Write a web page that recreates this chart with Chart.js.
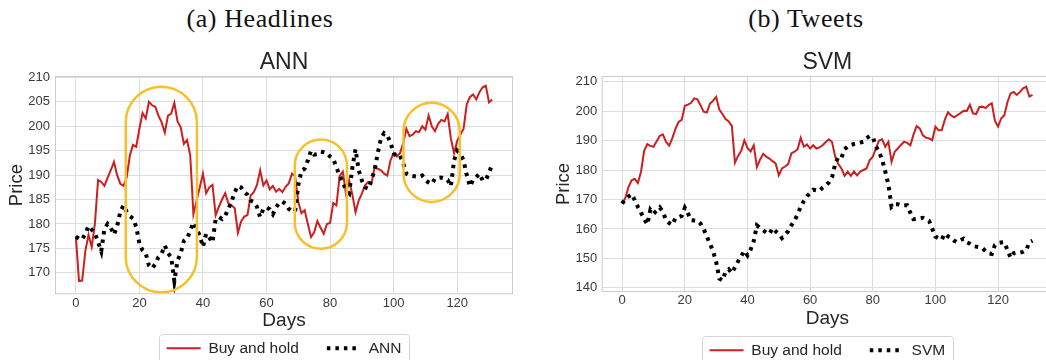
<!DOCTYPE html>
<html>
<head>
<meta charset="utf-8">
<title>Buy and hold vs ANN / SVM</title>
<script src="https://cdn.jsdelivr.net/npm/chart.js@4.4.1/dist/chart.umd.min.js"></script>
<style>
  html, body { margin: 0; padding: 0; background: #fff; }
  body { width: 1046px; height: 360px; position: relative; overflow: hidden; }
  .caption {
    position: absolute; top: 4px;
    font-family: "Liberation Serif", "DejaVu Serif", serif;
    font-size: 26px; letter-spacing: 0.6px; color: #111;
    white-space: nowrap; transform: translateX(-50%);
  }
  canvas { position: absolute; top: 0; }
</style>
</head>
<body>
<div class="caption" style="left:260px">(a) Headlines</div>
<div class="caption" style="left:806px">(b) Tweets</div>
<canvas id="annChart" width="530" height="366" style="left:0"></canvas>
<canvas id="svmChart" width="540" height="368" style="left:530px"></canvas>
<script>
// --- DATA (one value per trading day, day 0..131) ---
const buyHoldHeadlines = [
  177.5, 168.3, 168.4, 174.5, 177.8, 175.3, 180.0, 189.0, 188.6, 187.8,
  189.5, 191.0, 192.7, 190.0, 188.2, 187.8, 189.5, 194.0, 196.2, 195.8,
  199.5, 202.7, 201.6, 205.0, 204.3, 204.0, 202.2, 200.8, 198.7, 202.2,
  202.6, 204.8, 201.0, 199.8, 196.4, 197.2, 194.0, 182.0, 184.8, 187.5,
  190.3, 186.3, 187.5, 188.0, 181.8, 183.5, 185.0, 186.3, 184.2, 183.8,
  183.2, 178.2, 180.5, 181.5, 181.8, 185.8, 186.5, 188.0, 191.0, 187.9,
  188.9, 187.1, 187.8, 186.6, 187.2, 186.5, 187.6, 188.3, 190.3, 189.8,
  184.5, 182.2, 182.8, 180.0, 177.3, 178.3, 180.6, 179.2, 178.0, 180.0,
  180.2, 184.3, 183.8, 189.8, 190.7, 186.2, 188.9, 186.0, 182.4, 184.8,
  186.2, 187.9, 188.6, 188.2, 191.6, 191.3, 191.0, 190.3, 189.9, 193.0,
  194.5, 193.8, 194.5, 196.5, 199.5, 198.0, 198.3, 199.0, 198.8, 200.0,
  199.3, 202.2, 200.0, 199.0, 200.5, 201.3, 201.0, 202.5, 197.5, 194.5,
  197.0, 198.3, 199.5, 204.5, 206.0, 206.5, 205.5, 207.0, 208.0, 208.3,
  204.9, 205.5
];
const annPrices = [
  177.4, 177.0, 176.8, 178.0, 179.6, 178.8, 178.1, 176.3, 174.4, 179.0,
  180.0, 179.2, 177.8, 179.5, 182.5, 183.8, 182.5, 181.6, 181.1, 179.4,
  176.0, 174.6, 174.0, 171.5, 170.9, 171.8, 173.2, 173.9, 175.6, 174.0,
  173.2, 168.3, 172.5, 174.0, 176.5, 177.0, 178.6, 180.3, 179.0, 177.6,
  175.3, 178.0, 177.2, 176.2, 181.0, 181.4, 181.0, 181.7, 183.1, 184.6,
  186.5, 187.8, 187.5, 186.5, 186.0, 184.8, 184.5, 183.5, 181.4, 183.1,
  183.4, 183.0, 182.0, 183.4, 184.3, 184.6, 184.1, 183.1, 182.6, 182.6,
  188.0, 190.9, 191.3, 193.0, 195.0, 194.2, 194.3, 194.8, 194.7, 194.5,
  193.8, 193.3, 191.6, 189.9, 188.5, 187.0, 186.3, 191.5, 195.3, 191.0,
  188.9, 187.5, 187.2, 189.0, 191.0, 194.5, 197.5, 198.6, 198.1, 196.7,
  194.5, 193.8, 194.0, 192.5, 190.3, 189.9, 189.8, 189.7, 189.6, 189.9,
  189.0, 188.5, 188.2, 189.3, 189.4, 189.5, 189.3, 189.0, 187.7, 193.0,
  195.0, 194.4, 193.0, 190.0, 187.7, 189.0, 189.6, 190.3, 188.9, 189.0,
  190.5, 192.2
];
const buyHoldTweets = [
  168.6, 170.5, 174.2, 176.5, 177.0, 175.6, 179.4, 186.5, 188.8, 188.2,
  187.9, 189.8, 191.6, 192.0, 189.5, 188.3, 190.8, 194.0, 196.3, 197.0,
  201.8, 202.2, 202.8, 204.3, 204.0, 202.0, 199.8, 199.5, 202.5, 203.5,
  204.8, 200.5, 199.0, 197.3, 196.5, 195.0, 182.5, 184.8, 186.5, 190.1,
  187.5, 186.3, 188.4, 181.0, 183.5, 185.5, 184.5, 183.9, 183.0, 182.2,
  178.2, 180.5, 181.2, 182.0, 185.6, 186.2, 187.0, 190.9, 187.9, 188.7,
  187.3, 188.4, 187.3, 187.7, 188.4, 189.5, 190.4, 189.5, 184.5, 182.0,
  180.5, 178.0, 179.4, 178.0, 179.5, 178.2, 179.5, 180.0, 180.5, 183.3,
  184.5, 187.3, 190.0, 190.4, 187.9, 189.6, 182.8, 186.2, 187.3, 188.5,
  189.6, 189.2, 188.4, 192.0, 194.9, 194.1, 191.8, 191.0, 190.7, 190.1,
  194.7, 193.5, 193.5, 197.0, 199.6, 198.5, 197.9, 198.6, 199.3, 200.1,
  200.0, 202.1, 199.2, 199.0, 201.3, 201.5, 201.0, 202.0, 202.6, 196.7,
  194.7, 197.5, 198.6, 203.0, 206.0, 206.5, 205.5, 206.5, 207.7, 208.3,
  204.9, 205.5
];
const svmPrices = [
  168.6, 170.3, 171.0, 171.8, 169.8, 167.5, 165.5, 163.5, 161.5, 166.5,
  165.2, 166.2, 167.3, 165.8, 163.0, 162.0, 161.4, 163.7, 164.0, 164.4,
  167.2, 165.3, 163.0, 162.9, 162.8, 161.8, 160.0, 157.5, 155.0, 152.5,
  148.8, 143.2, 142.5, 145.5, 146.3, 145.0, 147.0, 149.0, 150.8, 152.6,
  151.0, 153.0, 155.9, 161.2, 160.3, 159.5, 158.8, 158.3, 160.3, 159.2,
  158.3, 156.9, 158.0, 159.3, 161.2, 162.8, 165.0, 167.5, 169.5, 171.1,
  172.2, 173.3, 173.1, 172.9, 174.0, 174.8, 175.8, 177.5, 182.0, 184.5,
  184.2, 187.0, 188.0, 188.5, 188.8, 189.0, 189.3, 189.6, 190.8, 191.5,
  191.2, 188.0, 186.2, 183.5, 179.5, 175.0, 167.5, 168.4, 168.4, 168.0,
  168.0, 168.0, 165.5, 163.3, 163.4, 163.6, 163.8, 163.2, 162.7, 160.1,
  157.4, 156.8, 156.3, 158.4, 157.5, 157.0, 156.0, 155.5, 156.2, 156.7,
  155.5, 155.0, 154.2, 154.0, 153.8, 153.5, 152.5, 151.7, 151.5, 154.5,
  155.2, 155.4, 155.5, 152.9, 150.2, 151.8, 152.1, 152.0, 152.2, 152.7,
  155.5, 156.0
];

const dayTicks = [0, 20, 40, 60, 80, 100, 120];
const annPriceTicks = [170, 175, 180, 185, 190, 195, 200, 205, 210];
const svmPriceTicks = [140, 150, 160, 170, 180, 190, 200, 210];

// day / price spans circled in yellow on the Headlines panel
const annHighlights = [
  { from: 15.7, to: 38.1, low: 166.0, high: 208.1 },
  { from: 68.9, to: 85.3, low: 174.9, high: 197.3 },
  { from: 103.1, to: 120.8, low: 184.5, high: 204.8 }
];

// --- STYLE ---
const SANS = "'Liberation Sans', Arial, sans-serif";
const TEXT = "#262626";
const TICK_TEXT = "#3a3a3a";
const GRID = "#dddddd";
const FRAME = "#cccccc";
const RED = "#cc1f1f";
const YELLOW = "#f6c02c";
const DOTS = [3.5, 5];

Chart.defaults.font.family = SANS;
Chart.defaults.color = TEXT;

function toPoints(values) {
  return values.map((v, i) => ({ x: i, y: v }));
}

// legend samples: take the dash and width from the dataset itself
function legendLabels(chart) {
  const items = Chart.defaults.plugins.legend.labels.generateLabels(chart);
  return items.map(item => {
    const ds = chart.data.datasets[item.datasetIndex];
    item.lineDash = ds.borderDash || [];
    item.lineWidth = ds.borderWidth;
    item.strokeStyle = ds.borderColor;
    item.lineCap = "butt";
    return item;
  });
}

// light frame round the plot area + rounded box round the legend
const framePlugin = {
  id: "frameBox",
  afterDraw(chart) {
    const { ctx, chartArea: a } = chart;
    ctx.save();
    ctx.strokeStyle = FRAME;
    ctx.lineWidth = 1;
    ctx.strokeRect(a.left + 0.5, a.top + 0.5, a.right - a.left - 1, a.bottom - a.top - 1);

    const boxes = chart.legend.legendHitBoxes;
    if (boxes && boxes.length) {
      const left = Math.min(...boxes.map(b => b.left)) - 8;
      const right = Math.max(...boxes.map(b => b.left + b.width)) + 7;
      const cy = boxes[0].top + boxes[0].height / 2;
      ctx.strokeStyle = "#d4d4d4";
      ctx.beginPath();
      ctx.roundRect(Math.round(left) + 0.5, Math.round(cy - 14) + 0.5, Math.round(right - left), 31, 3);
      ctx.stroke();
    }
    ctx.restore();
  }
};

const highlightPlugin = {
  id: "highlights",
  afterDatasetsDraw(chart, args, opts) {
    const spans = opts.spans || [];
    if (!spans.length) return;
    const { ctx, scales: { x, y } } = chart;
    ctx.save();
    ctx.strokeStyle = YELLOW;
    ctx.lineWidth = 2.5;
    spans.forEach(s => {
      const l = x.getPixelForValue(s.from);
      const r = x.getPixelForValue(s.to);
      const t = y.getPixelForValue(s.high);
      const b = y.getPixelForValue(s.low);
      ctx.beginPath();
      ctx.roundRect(l, t, r - l, b - t, (r - l) / 2);
      ctx.stroke();
    });
    ctx.restore();
  }
};

function buildChart(canvasId, cfg) {
  const ctx = document.getElementById(canvasId).getContext("2d");
  return new Chart(ctx, {
    type: "line",
    data: {
      datasets: [
        {
          label: "Buy and hold",
          data: toPoints(cfg.buyHold),
          borderColor: RED,
          borderWidth: 2,
          pointRadius: 0,
          tension: 0,
          order: 1
        },
        {
          label: cfg.model,
          data: toPoints(cfg.modelPrices),
          borderColor: "#000000",
          borderWidth: 4,
          borderDash: DOTS,
          pointRadius: 0,
          tension: 0,
          order: 0
        }
      ]
    },
    options: {
      responsive: false,
      animation: false,
      devicePixelRatio: 1,
      events: [],
      layout: { padding: cfg.padding },
      scales: {
        x: {
          type: "linear",
          min: -6.55,
          max: 137.55,
          afterBuildTicks: s => { s.ticks = dayTicks.map(v => ({ value: v })); },
          afterFit: s => { s.height = cfg.xHeight; },
          grid: { color: GRID, drawTicks: false },
          border: { display: false },
          ticks: {
            color: TICK_TEXT, font: { size: 13 }, padding: cfg.xTickPad,
            autoSkip: false, maxRotation: 0
          },
          title: {
            display: true, text: "Days", color: TEXT,
            font: { size: 19 }, padding: { top: 0, bottom: cfg.daysPad }
          }
        },
        y: {
          min: cfg.yMin,
          max: cfg.yMax,
          afterBuildTicks: s => { s.ticks = cfg.yTicks.map(v => ({ value: v })); },
          afterFit: s => { s.width = cfg.yWidth; },
          grid: { color: GRID, drawTicks: false },
          border: { display: false },
          ticks: { color: TICK_TEXT, font: { size: 13 }, padding: cfg.yTickPad, autoSkip: false },
          title: {
            display: true, text: "Price", color: TEXT,
            font: { size: 18.5 }, padding: { top: cfg.pricePad, bottom: 0 }
          }
        }
      },
      plugins: {
        title: {
          display: true, text: cfg.model, fullSize: false, color: TEXT,
          font: { size: 23, weight: "normal", lineHeight: 1.1 },
          padding: { top: 0, bottom: 0.7 }
        },
        legend: {
          position: "bottom",
          fullSize: false,
          labels: {
            usePointStyle: true,
            pointStyle: "line",
            pointStyleWidth: 34,
            color: TEXT,
            font: { size: 15.5 },
            padding: 28,
            generateLabels: legendLabels,
            sort: (a, b) => a.datasetIndex - b.datasetIndex
          }
        },
        tooltip: { enabled: false },
        highlights: { spans: cfg.highlights }
      }
    },
    plugins: [framePlugin, highlightPlugin]
  });
}

buildChart("annChart", {
  model: "ANN",
  buyHold: buyHoldHeadlines,
  modelPrices: annPrices,
  yMin: 165.6, yMax: 210.3, yTicks: annPriceTicks,
  padding: { top: 50, left: 0, right: 17, bottom: 0 },
  yWidth: 55, yTickPad: 5, pricePad: 5.6,
  xHeight: 18.25, xTickPad: 1, daysPad: -19.2,
  highlights: annHighlights
});

buildChart("svmChart", {
  model: "SVM",
  buyHold: buyHoldTweets,
  modelPrices: svmPrices,
  yMin: 138.6, yMax: 211.9, yTicks: svmPriceTicks,
  padding: { top: 50, left: 20, right: 17, bottom: 0 },
  yWidth: 51.7, yTickPad: 4.4, pricePad: 2.4,
  xHeight: 22.5, xTickPad: 0.5, daysPad: -15.6,
  highlights: []
});
</script>
</body>
</html>
